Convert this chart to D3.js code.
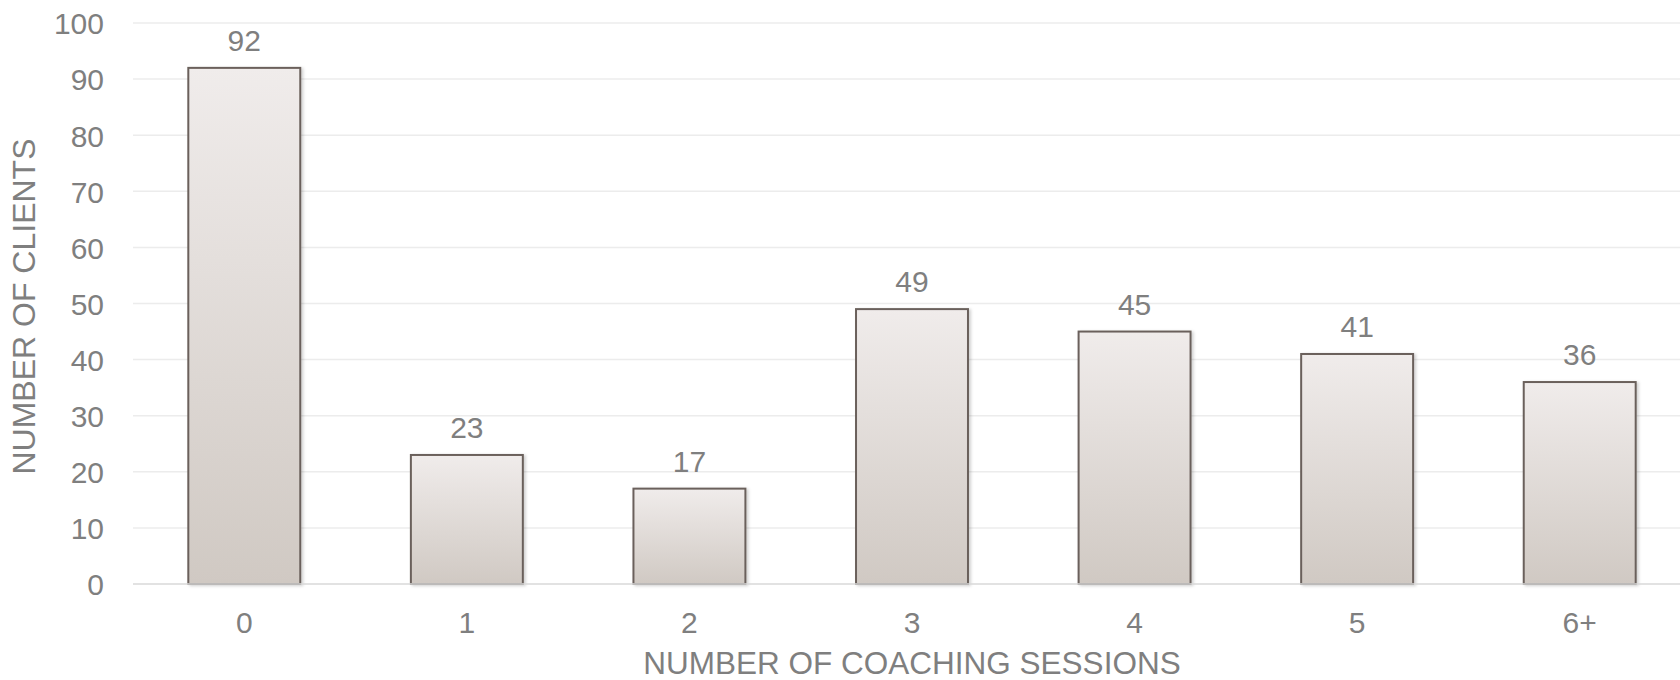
<!DOCTYPE html>
<html>
<head>
<meta charset="utf-8">
<script src="https://cdn.jsdelivr.net/npm/d3@7"></script>
<style>
  html, body { margin: 0; padding: 0; background: #ffffff; }
  svg { display: block; }
  text { font-family: "Liberation Sans", Arial, sans-serif; fill: #7f7f7f; }
</style>
</head>
<body>
<svg id="chart" width="1680" height="680"></svg>
<script>
// Clients by number of coaching sessions attended
const sessions = ["0", "1", "2", "3", "4", "5", "6+"];
const clients = [92, 23, 17, 49, 45, 41, 36];
const yTicks = [0, 10, 20, 30, 40, 50, 60, 70, 80, 90, 100];

const svg = d3.select("#chart");
const plot = { left: 133, right: 1691, top: 23, bottom: 584 };

const x = d3.scaleBand()
  .domain(sessions)
  .range([plot.left, plot.right])
  .paddingInner(0.497)
  .paddingOuter(0.2485);

const y = d3.scaleLinear()
  .domain([0, 100])
  .range([plot.bottom, plot.top]);

const defs = svg.append("defs");
const grad = defs.append("linearGradient")
  .attr("id", "barFill").attr("x1", 0).attr("y1", 0).attr("x2", 0).attr("y2", 1);
grad.append("stop").attr("offset", "0%").attr("stop-color", "#f0eceb");
grad.append("stop").attr("offset", "100%").attr("stop-color", "#d0c9c3");

const shadow = defs.append("filter").attr("id", "barShadow")
  .attr("x", "-10%").attr("y", "-10%").attr("width", "130%").attr("height", "120%");
shadow.append("feDropShadow")
  .attr("dx", 2).attr("dy", 1).attr("stdDeviation", 1.5)
  .attr("flood-color", "#000").attr("flood-opacity", 0.18);

// Horizontal gridlines
svg.append("g")
  .selectAll("line")
  .data(yTicks.filter(d => d > 0))
  .join("line")
  .attr("x1", plot.left).attr("x2", plot.right)
  .attr("y1", d => y(d)).attr("y2", d => y(d))
  .attr("stroke", "#ececec").attr("stroke-width", 1.5);

// Y axis labels
const yAxis = svg.append("g")
  .attr("transform", `translate(${plot.left - 29},0)`)
  .call(d3.axisLeft(y).tickValues(yTicks).tickSize(0).tickPadding(0));
yAxis.select(".domain").remove();
yAxis.selectAll("text")
  .attr("x", 0).attr("dy", "0.36em")
  .style("font-size", "30px").style("fill", "#7f7f7f")
  .style("font-family", "'Liberation Sans', Arial, sans-serif");

// Bars
svg.append("g")
  .selectAll("rect")
  .data(sessions.map((s, i) => ({ s, v: clients[i] })))
  .join("rect")
  .attr("x", d => x(d.s))
  .attr("y", d => y(d.v))
  .attr("width", x.bandwidth())
  .attr("height", d => y(0) - y(d.v))
  .attr("fill", "url(#barFill)")
  .attr("stroke", "#6b615b")
  .attr("stroke-width", 2)
  .attr("filter", "url(#barShadow)");

// Baseline
svg.append("line")
  .attr("x1", plot.left).attr("x2", plot.right)
  .attr("y1", y(0)).attr("y2", y(0))
  .attr("stroke", "#d9d9d9").attr("stroke-width", 1.5);

// Value labels
svg.append("g")
  .selectAll("text")
  .data(sessions.map((s, i) => ({ s, v: clients[i] })))
  .join("text")
  .attr("x", d => x(d.s) + x.bandwidth() / 2)
  .attr("y", d => y(d.v) - 17)
  .attr("text-anchor", "middle")
  .style("font-size", "30px")
  .text(d => d.v);

// X axis labels
const xAxis = svg.append("g")
  .attr("transform", `translate(0,${plot.bottom})`)
  .call(d3.axisBottom(x).tickSize(0).tickPadding(0));
xAxis.select(".domain").remove();
xAxis.selectAll("text")
  .attr("y", 49).attr("dy", 0)
  .style("font-size", "30px").style("fill", "#7f7f7f")
  .style("font-family", "'Liberation Sans', Arial, sans-serif");

// Axis titles
svg.append("text")
  .attr("x", (plot.left + plot.right) / 2)
  .attr("y", 674)
  .attr("text-anchor", "middle")
  .style("font-size", "31.5px")
  .text("NUMBER OF COACHING SESSIONS");

svg.append("text")
  .attr("transform", `translate(35,${(plot.top + plot.bottom) / 2 + 3}) rotate(-90)`)
  .attr("text-anchor", "middle")
  .style("font-size", "32px")
  .text("NUMBER OF CLIENTS");
</script>
</body>
</html>
